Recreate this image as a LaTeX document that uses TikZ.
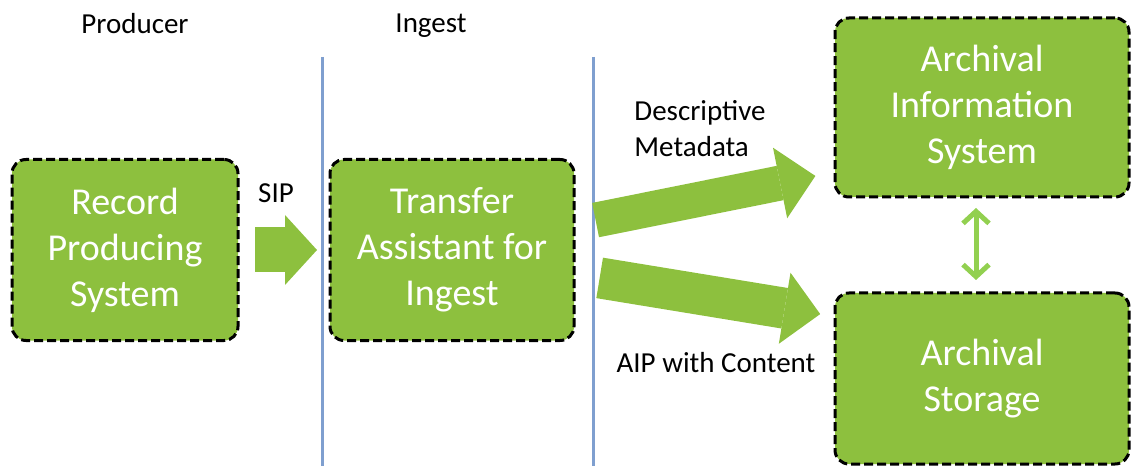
\documentclass[tikz,border=0pt]{standalone}
\usepackage{fontspec}
\setmainfont{Carlito}
\usetikzlibrary{arrows.meta,positioning}
\definecolor{boxgreen}{RGB}{141,192,62}
\definecolor{linkgreen}{RGB}{146,208,80}
\definecolor{laneblue}{RGB}{127,159,207}

\begin{document}
\begin{tikzpicture}[
    block/.style={draw=black, dash pattern=on 9pt off 4pt, line width=3pt, fill=boxgreen, rounded corners=14pt, text=white, align=center, font=\fontsize{38}{46}\selectfont, inner sep=0pt, outer sep=0pt},
    flow/.style={draw=boxgreen, line width=#1, -{Triangle[length=36pt,width=72pt,line width=0pt]}},
    link/.style={draw=linkgreen, line width=5pt, {Straight Barb[length=12pt,width=26pt]}-{Straight Barb[length=12pt,width=26pt]}},
    lanetext/.style={font=\fontsize{29}{36}\selectfont, text=black},
    lane/.style={draw=laneblue, line width=3pt},
    node distance=92pt
    ]
    \useasboundingbox (0,0) rectangle (1131pt,466pt);
    % swim lanes
    \draw[lane] (322pt,409pt) -- (322pt,0pt);
    \draw[lane] (593pt,409pt) -- (593pt,0pt);
    \node[lanetext, anchor=base] (producer) at (135pt,432pt) {Producer};
    \node[lanetext, anchor=base] (ingest) at (431pt,433pt) {Ingest};
    % systems
    \node[block, minimum width=226pt, minimum height=181pt] (rps) at (125pt,216pt) {Record\\Producing\\System};
    \node[block, minimum width=244pt, minimum height=181pt, right=92pt of rps] (tai) {Transfer\\Assistant for\\Ingest};
    \node[block, minimum width=294pt, minimum height=179pt] (ais) at (982pt,358.5pt) {Archival\\Information\\System};
    \node[block, minimum width=294pt, minimum height=171pt, below=96pt of ais] (ars) {Archival\\Storage};
    % flows
    \draw[flow=45pt, -{Triangle[length=32pt,width=70pt,line width=0pt]}, shorten <=17pt, shorten >=13pt] (rps) -- (tai);
    \node[lanetext, anchor=base] (sip) at (276pt,263pt) {SIP};
    \draw[flow=35pt, shorten <=22pt, shorten >=20pt] ([yshift=25.6pt]tai.east) -- ([yshift=-64.5pt]ais.west);
    \node[lanetext, align=left] (desc) at (700pt,337pt) {Descriptive\\Metadata};
    \draw[flow=41pt, shorten <=26pt, shorten >=15pt] ([yshift=-23.7pt]tai.east) -- ([yshift=62pt]ars.west);
    \node[lanetext, anchor=base] (aip) at (716pt,94pt) {AIP with Content};
    \draw[link, shorten <=11pt, shorten >=13pt] ([xshift=-6pt]ais.south) -- ([xshift=-6pt]ars.north);
  \end{tikzpicture}
\end{document}
